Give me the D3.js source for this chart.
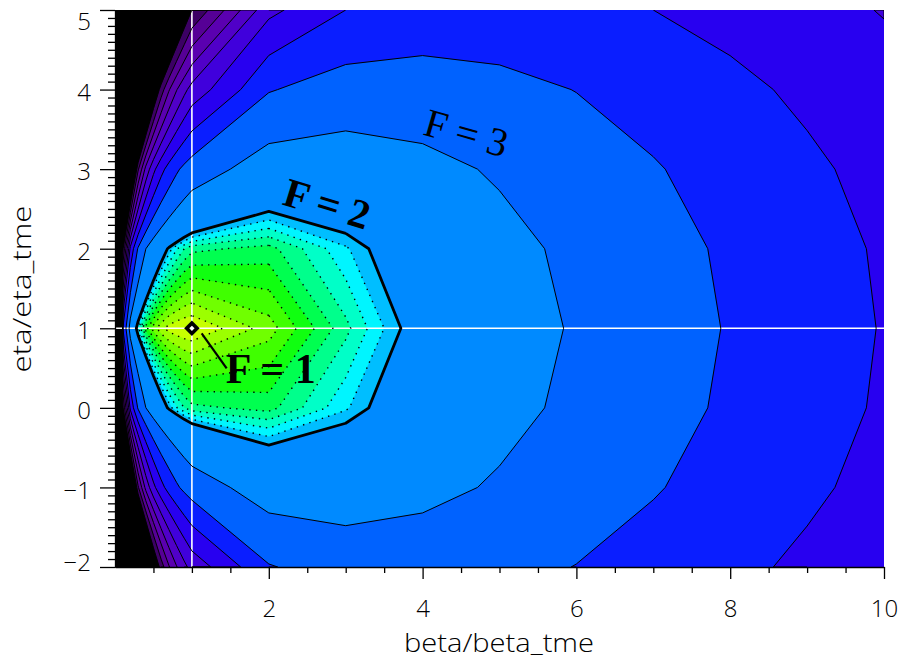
<!DOCTYPE html>
<html>
<head>
<meta charset="utf-8">
<script src="https://cdn.jsdelivr.net/npm/d3@7"></script>
<style>
  body { margin: 0; background: #fff; }
  svg { display: block; }
</style>
</head>
<body>
<svg id="chart" width="903" height="660"></svg>
<script>
// ---------------- data ----------------
const betaGrid = [0, 0.1, 0.2, 0.3, 0.4, 0.5, 0.6, 0.7, 0.8, 0.9, 1, 2, 3, 4, 5, 6, 7, 8, 9, 10];
const etaGrid = [-2, -1, 0, 1, 2, 3, 4, 5];
// F along each eta row, one value per betaGrid column (999 = off scale at beta = 0)
const F_etaM2 = [999, 61.30, 30.73, 20.57, 15.51, 12.50, 10.51, 9.10, 8.06, 7.26, 6.63, 4.06, 3.54, 3.53, 3.73, 4.02, 4.38, 4.77, 5.18, 5.61];
const F_etaM1 = [999, 30.05, 15.10, 10.15, 7.70, 6.25, 5.30, 4.64, 4.15, 3.78, 3.50, 2.50, 2.50, 2.75, 3.10, 3.50, 3.93, 4.38, 4.83, 5.30];
const F_eta0  = [999, 11.30, 5.73, 3.90, 3.01, 2.50, 2.18, 1.96, 1.81, 1.70, 1.63, 1.56, 1.88, 2.28, 2.73, 3.19, 3.66, 4.14, 4.63, 5.11];
const F_eta1  = [999, 5.05, 2.60, 1.82, 1.45, 1.25, 1.13, 1.06, 1.03, 1.01, 1.00, 1.25, 1.67, 2.13, 2.60, 3.08, 3.57, 4.06, 4.56, 5.05];
const F_eta2  = [999, 11.30, 5.73, 3.90, 3.01, 2.50, 2.18, 1.96, 1.81, 1.70, 1.63, 1.56, 1.88, 2.28, 2.73, 3.19, 3.66, 4.14, 4.63, 5.11];
const F_eta3  = [999, 30.05, 15.10, 10.15, 7.70, 6.25, 5.30, 4.64, 4.15, 3.78, 3.50, 2.50, 2.50, 2.75, 3.10, 3.50, 3.93, 4.38, 4.83, 5.30];
const F_eta4  = [999, 61.30, 30.73, 20.57, 15.51, 12.50, 10.51, 9.10, 8.06, 7.26, 6.63, 4.06, 3.54, 3.53, 3.73, 4.02, 4.38, 4.77, 5.18, 5.61];
const F_eta5  = [999, 105.05, 52.60, 35.15, 26.45, 21.25, 17.80, 15.35, 13.53, 12.12, 11.00, 6.25, 5.00, 4.63, 4.60, 4.75, 5.00, 5.31, 5.67, 6.05];

const levels = [1, 1.1, 1.2, 1.3, 1.4, 1.5, 1.6, 1.7, 1.8, 1.9, 2, 3, 4, 5, 6, 7, 8, 9, 10, 11];
const bandColors = ["#c8ff00", "#9cff00", "#70ff00", "#40ff00", "#10ff10", "#00ff50", "#00ff8c", "#00ffc8", "#00f5ff", "#00beff",
                    "#008aff", "#0062ff", "#0a1eff", "#2800f0", "#4000dc", "#5000c8", "#5a00b0", "#560096", "#3c0064", "#000000"];
const dottedLevels = [1.1, 1.2, 1.3, 1.4, 1.5, 1.6, 1.7, 1.8, 1.9];
const thickLevels = [2];
const thinLevels = [3, 4, 5, 6, 7, 8, 9, 10, 11];

const xMajorTicks = [2, 4, 6, 8, 10];
const xTickLabels = ["2", "4", "6", "8", "10"];
const yMajorTicks = [-2, -1, 0, 1, 2, 3, 4, 5];
const yTickLabels = ["\u22122", "\u22121", "0", "1", "2", "3", "4", "5"];

// annotations in data coordinates
const markerPoint = [1, 1];
const leaderLine = [[1.127, 0.937], [1.452, 0.497]];
const labelTexts = ["F = 1", "F = 2", "F = 3"];
const labelAnchors = [[1.44, 0.31], [2.16, 2.56], [3.99, 3.44]];
const labelAngles = [0, 17, 16];
const labelWeights = ["bold", "bold", "normal"];
const labelSizes = [42, 41, 40];

// ---------------- drawing ----------------
const svg = d3.select("#chart");
const x = d3.scaleLinear().domain([0, 10]).range([115, 884]);
const y = d3.scaleLinear().domain([-2, 5]).range([567, 10]);

const fRows = [F_etaM2, F_etaM1, F_eta0, F_eta1, F_eta2, F_eta3, F_eta4, F_eta5];
const nx = betaGrid.length, ny = etaGrid.length;
const values = fRows.flat();

const gxToBeta = d3.scaleLinear().domain(betaGrid.map((_, i) => i + 0.5)).range(betaGrid).clamp(true);
const gyToEta = d3.scaleLinear().domain(etaGrid.map((_, j) => j + 0.5)).range(etaGrid).clamp(true);

const proj = d3.geoTransform({
  point(px, py) { this.stream.point(x(gxToBeta(px)), y(gyToEta(py))); }
});
const geo = d3.geoPath(proj);

const contourGen = d3.contours().size([nx, ny]).smooth(true).thresholds(levels);
const cs = contourGen(values);

svg.append("defs").append("clipPath").attr("id", "plotclip")
  .append("rect").attr("x", x(0)).attr("y", y(5)).attr("width", x(10) - x(0)).attr("height", y(-2) - y(5));

const plot = svg.append("g").attr("clip-path", "url(#plotclip)");
plot.append("rect").attr("x", x(0)).attr("y", y(5)).attr("width", x(10) - x(0)).attr("height", y(-2) - y(5)).attr("fill", "#000");

plot.append("g").selectAll("path").data(cs).join("path")
  .attr("d", geo)
  .attr("fill", (d, i) => bandColors[i])
  .attr("fill-rule", "evenodd")
  .attr("stroke", (d, i) => bandColors[i])
  .attr("stroke-width", 0.3);

// crosshair
plot.append("line").attr("x1", x(markerPoint[0])).attr("x2", x(markerPoint[0])).attr("y1", y(5)).attr("y2", y(-2))
  .attr("stroke", "#fff").attr("stroke-width", 1.6);
plot.append("line").attr("x1", x(0)).attr("x2", x(10)).attr("y1", y(markerPoint[1])).attr("y2", y(markerPoint[1]))
  .attr("stroke", "#fff").attr("stroke-width", 1.6);

// contour lines (without grid border segments)
function contourLines(mp) {
  const segs = [];
  const onB = (p, q) => (p[0] === 0 && q[0] === 0) || (p[0] === nx && q[0] === nx) ||
                        (p[1] === 0 && q[1] === 0) || (p[1] === ny && q[1] === ny);
  mp.coordinates.forEach(poly => poly.forEach(ring => {
    let cur = null;
    for (let i = 0; i < ring.length - 1; i++) {
      const p = ring[i], q = ring[i + 1];
      if (onB(p, q)) { if (cur) { segs.push(cur); cur = null; } continue; }
      if (!cur) cur = [p];
      cur.push(q);
    }
    if (cur) segs.push(cur);
  }));
  return segs;
}
const lineGen = d3.line().x(p => x(gxToBeta(p[0]))).y(p => y(gyToEta(p[1])));
const lineLayer = plot.append("g").attr("fill", "none").attr("stroke", "#000");
cs.forEach(c => {
  let w = null, dash = null;
  if (dottedLevels.includes(c.value)) { w = 1.4; dash = "1.4 5.2"; }
  else if (thickLevels.includes(c.value)) { w = 2.8; }
  else if (thinLevels.includes(c.value)) { w = 1; }
  if (w === null) return;
  contourLines(c).forEach(seg => {
    lineLayer.append("path").attr("d", lineGen(seg))
      .attr("stroke-width", w).attr("stroke-dasharray", dash)
      .attr("stroke-linejoin", "round");
  });
});

// leader line & marker
svg.append("line")
  .attr("x1", x(leaderLine[0][0])).attr("y1", y(leaderLine[0][1]))
  .attr("x2", x(leaderLine[1][0])).attr("y2", y(leaderLine[1][1]))
  .attr("stroke", "#000").attr("stroke-width", 2.2);
svg.append("path").attr("d", d3.symbol(d3.symbolSquare, 120)())
  .attr("transform", `translate(${x(markerPoint[0])},${y(markerPoint[1])}) rotate(45)`).attr("fill", "#000");
svg.append("path").attr("d", d3.symbol(d3.symbolSquare, 14)())
  .attr("transform", `translate(${x(markerPoint[0])},${y(markerPoint[1])}) rotate(45)`).attr("fill", "#fff");

// labels
labelTexts.forEach((t, i) => {
  const px = x(labelAnchors[i][0]), py = y(labelAnchors[i][1]);
  svg.append("text").text(t)
    .attr("transform", `translate(${px},${py}) rotate(${labelAngles[i]})`)
    .attr("font-family", "'Liberation Serif', 'Times New Roman', serif")
    .attr("font-weight", labelWeights[i])
    .attr("font-size", labelSizes[i])
    .attr("fill", "#000");
});

// axes
const axisFont = "'Open Sans', 'DejaVu Sans', sans-serif";
const axisWeight = 300;
const yMinor = d3.range(-20, 51).map(v => v / 10).filter(v => !Number.isInteger(v));
svg.append("g").attr("transform", `translate(${x(0)},0)`)
  .call(d3.axisLeft(y).tickValues(yMinor).tickSize(7).tickSizeOuter(0).tickFormat(""))
  .call(g => g.selectAll("line").attr("stroke-width", 1.3));
const yAx = svg.append("g").attr("transform", `translate(${x(0)},0)`)
  .call(d3.axisLeft(y).tickValues(yMajorTicks).tickSize(15).tickSizeOuter(0).tickPadding(9)
        .tickFormat((d, i) => yTickLabels[i]));
yAx.selectAll("line").attr("stroke-width", 1.3);
yAx.select(".domain").attr("stroke-width", 1.3);
yAx.selectAll("text")
  .attr("font-family", axisFont).attr("font-weight", axisWeight).attr("font-size", 24).attr("fill", "#000")
  .attr("y", d => d === 5 ? 12 : (d === -2 ? -4 : 3));

const xMinor = d3.range(1, 20).map(v => v / 2).filter(v => v % 2 !== 0);
svg.append("g").attr("transform", `translate(0,${y(-2)})`)
  .call(d3.axisBottom(x).tickValues(xMinor).tickSize(6).tickSizeOuter(0).tickFormat(""))
  .call(g => g.selectAll("line").attr("stroke-width", 1.3));
const xAx = svg.append("g").attr("transform", `translate(0,${y(-2)})`)
  .call(d3.axisBottom(x).tickValues(xMajorTicks).tickSize(12).tickSizeOuter(0).tickPadding(21)
        .tickFormat((d, i) => xTickLabels[i]));
xAx.selectAll("line").attr("stroke-width", 1.3);
xAx.select(".domain").attr("stroke-width", 1.3);
xAx.selectAll("text").attr("font-family", axisFont).attr("font-weight", axisWeight).attr("font-size", 24).attr("fill", "#000");

// axis titles
svg.append("text").text("beta/beta_tme")
  .attr("x", 499).attr("y", 652).attr("text-anchor", "middle")
  .attr("font-family", axisFont).attr("font-weight", axisWeight).attr("font-size", 25).attr("fill", "#000")
  .attr("textLength", 190).attr("lengthAdjust", "spacingAndGlyphs");
svg.append("text").text("eta/eta_tme")
  .attr("transform", "translate(31,289) rotate(-90)").attr("text-anchor", "middle")
  .attr("font-family", axisFont).attr("font-weight", axisWeight).attr("font-size", 25).attr("fill", "#000")
  .attr("textLength", 167).attr("lengthAdjust", "spacingAndGlyphs");
</script>
</body>
</html>
